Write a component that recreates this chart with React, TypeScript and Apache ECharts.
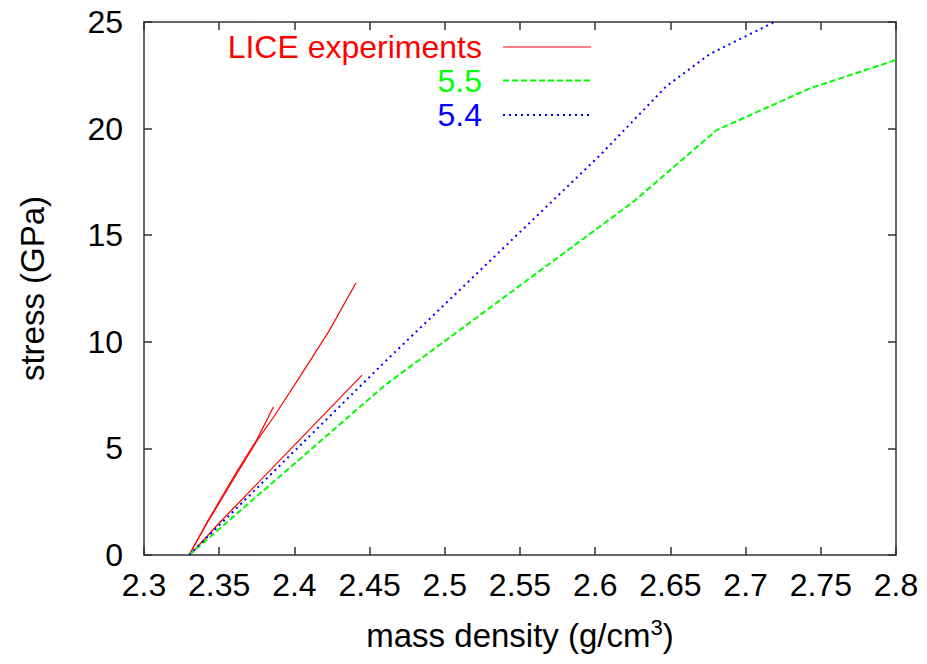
import React, { useEffect, useRef } from "react";
import * as echarts from "echarts";

// Stress vs. mass density: LICE shock experiments and two model curves
const xTicks = { min: 2.3, max: 2.8, step: 0.05 };
const yTicks = { min: 0, max: 25, step: 5 };

// LICE experiments (three shots)
const liceLong: [number, number][] = [
  [2.33, 0], [2.342, 1.5], [2.362, 3.85], [2.375, 5.35], [2.386, 6.45],
  [2.404, 8.4], [2.423, 10.5], [2.441, 12.77],
];
const liceShort: [number, number][] = [
  [2.33, 0], [2.342, 1.55], [2.362, 3.95], [2.375, 5.4], [2.386, 6.94],
];
const liceLow: [number, number][] = [
  [2.3306, 0], [2.35, 1.5], [2.4, 5.15], [2.445, 8.44],
];

// model 5.5
const model55: [number, number][] = [
  [2.33, 0], [2.46, 7.95], [2.6254, 16.57], [2.6807, 19.93],
  [2.7428, 21.89], [2.8, 23.22],
];

// model 5.4
const model54: [number, number][] = [
  [2.33, 0], [2.46, 9.05], [2.6032, 18.75], [2.6475, 22.0],
  [2.6763, 23.5], [2.7184, 24.97],
];

const RED = "#ff0000";
const GREEN = "#00ff00";
const BLUE = "#0000ff";
const FONT = "'Liberation Sans', Arial, Helvetica, sans-serif";
const FRAME = "#333";

const legendItems = [
  { label: "LICE experiments", color: RED, dash: "solid" as any, width: 1.2 },
  { label: "5.5", color: GREEN, dash: [6, 3], width: 2 },
  { label: "5.4", color: BLUE, dash: [2, 4], width: 2 },
];

export default function App() {
  const ref = useRef<HTMLDivElement>(null);

  useEffect(() => {
    if (!ref.current) return;
    const chart = echarts.init(ref.current, null, { renderer: "svg" });

    const fmt = (v: number) => String(+v.toFixed(2));

    const baseX = {
      type: "value",
      min: xTicks.min,
      max: xTicks.max,
      interval: xTicks.step,
      splitLine: { show: false },
      axisLine: { show: true, onZero: false, lineStyle: { color: FRAME, width: 1.5 } },
      axisTick: { show: true, inside: true, length: 8, lineStyle: { color: FRAME, width: 1.5 } },
    };
    const baseY = {
      type: "value",
      min: yTicks.min,
      max: yTicks.max,
      interval: yTicks.step,
      splitLine: { show: false },
      axisLine: { show: true, onZero: false, lineStyle: { color: FRAME, width: 1.5 } },
      axisTick: { show: true, inside: true, length: 8, lineStyle: { color: FRAME, width: 1.5 } },
    };

    const legendGraphics: any[] = [];
    const legendRows = [47, 80.5, 115];
    legendItems.forEach((it, i) => {
      const y = legendRows[i];
      legendGraphics.push({
        type: "text",
        x: 482,
        y,
        style: {
          text: it.label,
          fill: it.color,
          font: `32px ${FONT}`,
          lineHeight: 28,
          align: "right",
          verticalAlign: "middle",
        },
      });
      legendGraphics.push({
        type: "line",
        shape: { x1: 503, y1: y, x2: 591, y2: y },
        style: { stroke: it.color, lineWidth: it.width, lineDash: it.dash },
      });
    });

    const line = (data: [number, number][], color: string, width: number, dash: any) => ({
      type: "line",
      name: "",
      data,
      showSymbol: false,
      symbol: "none",
      clip: true,
      lineStyle: { color, width, type: dash },
      xAxisIndex: 0,
      yAxisIndex: 0,
      z: 3,
    });

    chart.setOption({
      animation: false,
      backgroundColor: "#ffffff",
      textStyle: { fontFamily: FONT },
      grid: { left: 144, right: 31, top: 22, bottom: 109, containLabel: false },
      xAxis: [
        {
          ...baseX,
          position: "bottom",
          name: "{a|mass density (g/cm}{s|3}{a|)}",
          nameLocation: "middle",
          nameGap: 60,
          nameTextStyle: {
            color: "#000",
            rich: {
              a: { fontSize: 33, fontFamily: FONT, color: "#000", lineHeight: 40 },
              s: { fontSize: 22, fontFamily: FONT, color: "#000", lineHeight: 40, padding: [0, 0, 16, 0] },
            },
          },
          axisLabel: { show: true, fontSize: 32, color: "#000", margin: 14, fontFamily: FONT, formatter: fmt },
        },
        {
          ...baseX,
          position: "top",
          axisLabel: { show: false },
        },
      ],
      yAxis: [
        {
          ...baseY,
          position: "left",
          name: "stress (GPa)",
          nameLocation: "middle",
          nameRotate: 90,
          nameGap: 95,
          nameTextStyle: { fontSize: 33, color: "#000", fontFamily: FONT },
          axisLabel: { show: true, fontSize: 32, color: "#000", margin: 21, fontFamily: FONT },
        },
        {
          ...baseY,
          position: "right",
          axisLabel: { show: false },
        },
      ],
      series: [
        line(liceLong, RED, 1.2, "solid"),
        line(liceShort, RED, 1.2, "solid"),
        line(liceLow, RED, 1.2, "solid"),
        line(model55, GREEN, 2, [6, 3]),
        line(model54, BLUE, 2, [2, 4]),
      ],
      graphic: legendGraphics,
    });

    return () => chart.dispose();
  }, []);

  return <div ref={ref} style={{ width: 927, height: 664, margin: -8 }} />;
}
